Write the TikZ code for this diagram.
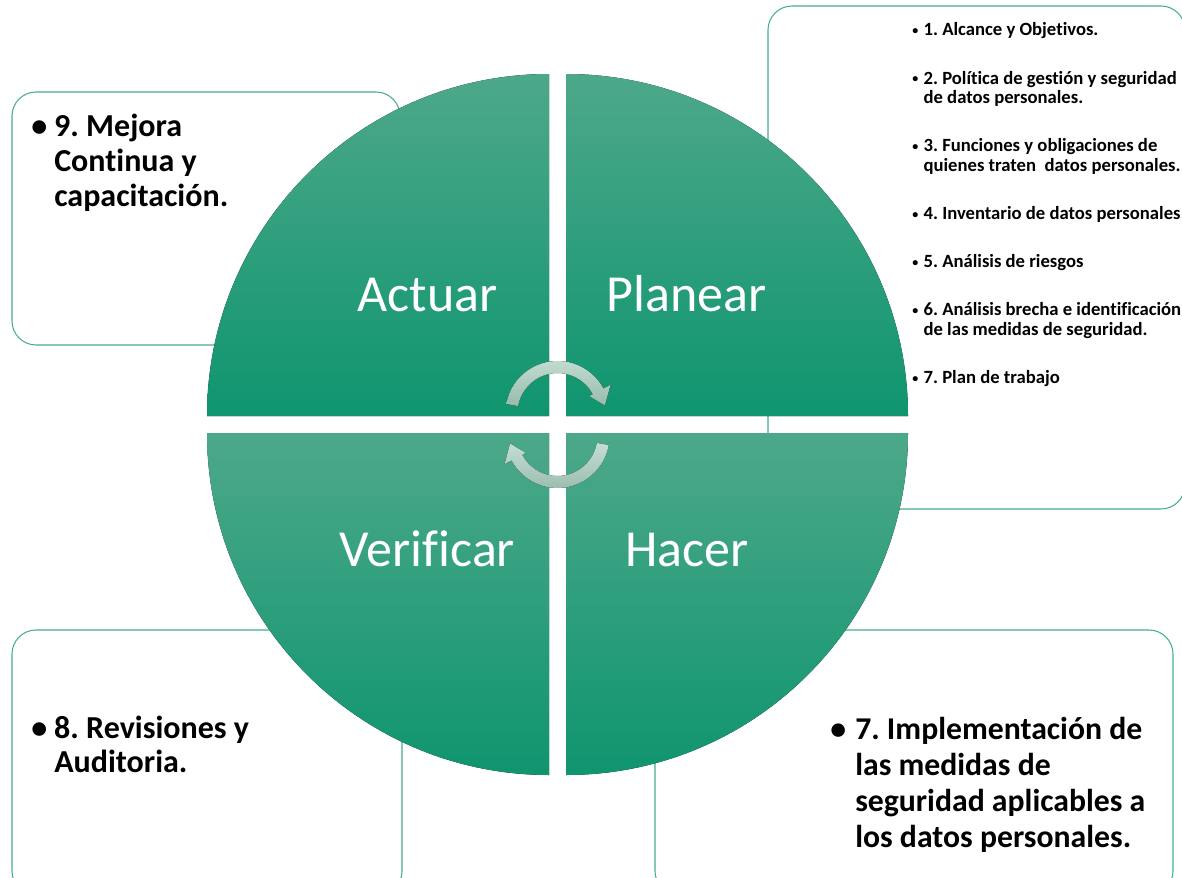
\documentclass[tikz,border=0pt]{standalone}
\usepackage{fontspec}
\setmainfont{Carlito}[Ligatures=NoCommon]
\usepackage{tikz}
\usetikzlibrary{positioning, calc}
\definecolor{pdcatop}{HTML}{4DA88A}
\definecolor{pdcabottom}{HTML}{0F956F}
\definecolor{pdcaframe}{HTML}{45AF8E}
\definecolor{looplight}{HTML}{C4DED4}
\definecolor{loopdark}{HTML}{98BBAC}
\newcommand{\bul}[1]{\makebox[#1][l]{\textbullet}}
\newcommand{\sbul}{\makebox[8.5pt][l]{\fontsize{9}{9}\selectfont\raisebox{1.3pt}{\textbullet}}}
\frenchspacing

\begin{document}
\begin{tikzpicture}[
        x=0.75pt, y=-0.75pt,
        frame/.style={draw=pdcaframe, line width=0.8pt, fill=white, rounded corners=18pt},
        quadrant/.style={top color=pdcatop, bottom color=pdcabottom, draw=none},
        phase/.style={text=white, font=\fontsize{39}{47}\selectfont, inner sep=0pt, anchor=base},
        note/.style={font=\fontsize{24}{26}\selectfont\bfseries, inner sep=0pt, anchor=base west},
        bignote/.style={font=\fontsize{23.8}{27}\selectfont\bfseries, inner sep=0pt, anchor=base west},
        smallnote/.style={font=\fontsize{14}{15}\selectfont\bfseries, inner sep=0pt, anchor=base west},
        loop/.style={top color=looplight, bottom color=loopdark, draw=none}
    ]
        \useasboundingbox (0,0) rectangle (1182,878);

        % boxes behind the circle
        \draw [frame] (12,92) rectangle (400,345);
        \draw [frame] (768,6) rectangle (1185,509);
        \draw [frame] (12,630) rectangle (402,895);
        \draw [frame] (655,630) rectangle (1173,895);

        % four quarter discs
        \fill [quadrant] (549,416) -- (207,416) arc[start angle=180, end angle=270, radius=342] -- cycle;
        \fill [quadrant] (566,416) -- (566,74) arc[start angle=270, end angle=360, radius=342] -- cycle;
        \fill [quadrant] (566,433) -- (908,433) arc[start angle=0, end angle=90, radius=342] -- cycle;
        \fill [quadrant] (549,433) -- (549,775) arc[start angle=90, end angle=180, radius=342] -- cycle;

        % cycle arrows in the middle
        \begin{scope}[shift={(557.5,413)}]
            \fill [loop] (-170:52) arc[start angle=-170, end angle=-28, radius=52] -- (-28:60) -- (-9:48) -- (-28:36) -- (-28:40) arc[start angle=-28, end angle=-170, radius=40] -- cycle;
        \end{scope}
        \begin{scope}[shift={(557.5,436)}, rotate=180]
            \fill [loop] (-170:52) arc[start angle=-170, end angle=-28, radius=52] -- (-28:60) -- (-9:48) -- (-28:36) -- (-28:40) arc[start angle=-28, end angle=-170, radius=40] -- cycle;
        \end{scope}

        \node (actuar) [phase] at (427.5,311.7) {Actuar};
        \node (planear) [phase] at (686.5,311.7) {Planear};
        \node (verificar) [phase] at (427.5,566.7) {Verificar};
        \node (hacer) [phase] at (686.7,566.7) {Hacer};

        \node (mejora) [note] at (31,136.7) {\begin{tabular}[t]{@{}l@{}l@{}}
            \bul{17.25pt} & 9. Mejora\\
             & Continua y\\
             & capacitación.
        \end{tabular}};
        \node (revision) [note] at (31,738.3) {\begin{tabular}[t]{@{}l@{}l@{}}
            \bul{17.25pt} & 8. Revisiones y\\
             & Auditoria.
        \end{tabular}};
        \node (medidas) [bignote] at (830,739.3) {\begin{tabular}[t]{@{}l@{}l@{}}
            \bul{18.75pt} & 7. Implementación de\\
             & las medidas de\\
             & seguridad aplicables a\\
             & los datos personales.
        \end{tabular}};
        \node (plan) [smallnote] at (912,36) {\begin{tabular}[t]{@{}l@{}l@{}}
            \sbul & 1. Alcance y Objetivos.\\[21pt]
            \sbul & 2. Política de gestión y seguridad\\
             & de datos personales.\\[21pt]
            \sbul & 3. Funciones y obligaciones de\\
             & quienes traten\ \ datos personales.\\[21pt]
            \sbul & 4. Inventario de datos personales\\[21pt]
            \sbul & 5. Análisis de riesgos\\[21pt]
            \sbul & 6. Análisis brecha e identificación\\
             & de las medidas de seguridad.\\[21pt]
            \sbul & 7. Plan de trabajo
        \end{tabular}};
    \end{tikzpicture}
\end{document}
